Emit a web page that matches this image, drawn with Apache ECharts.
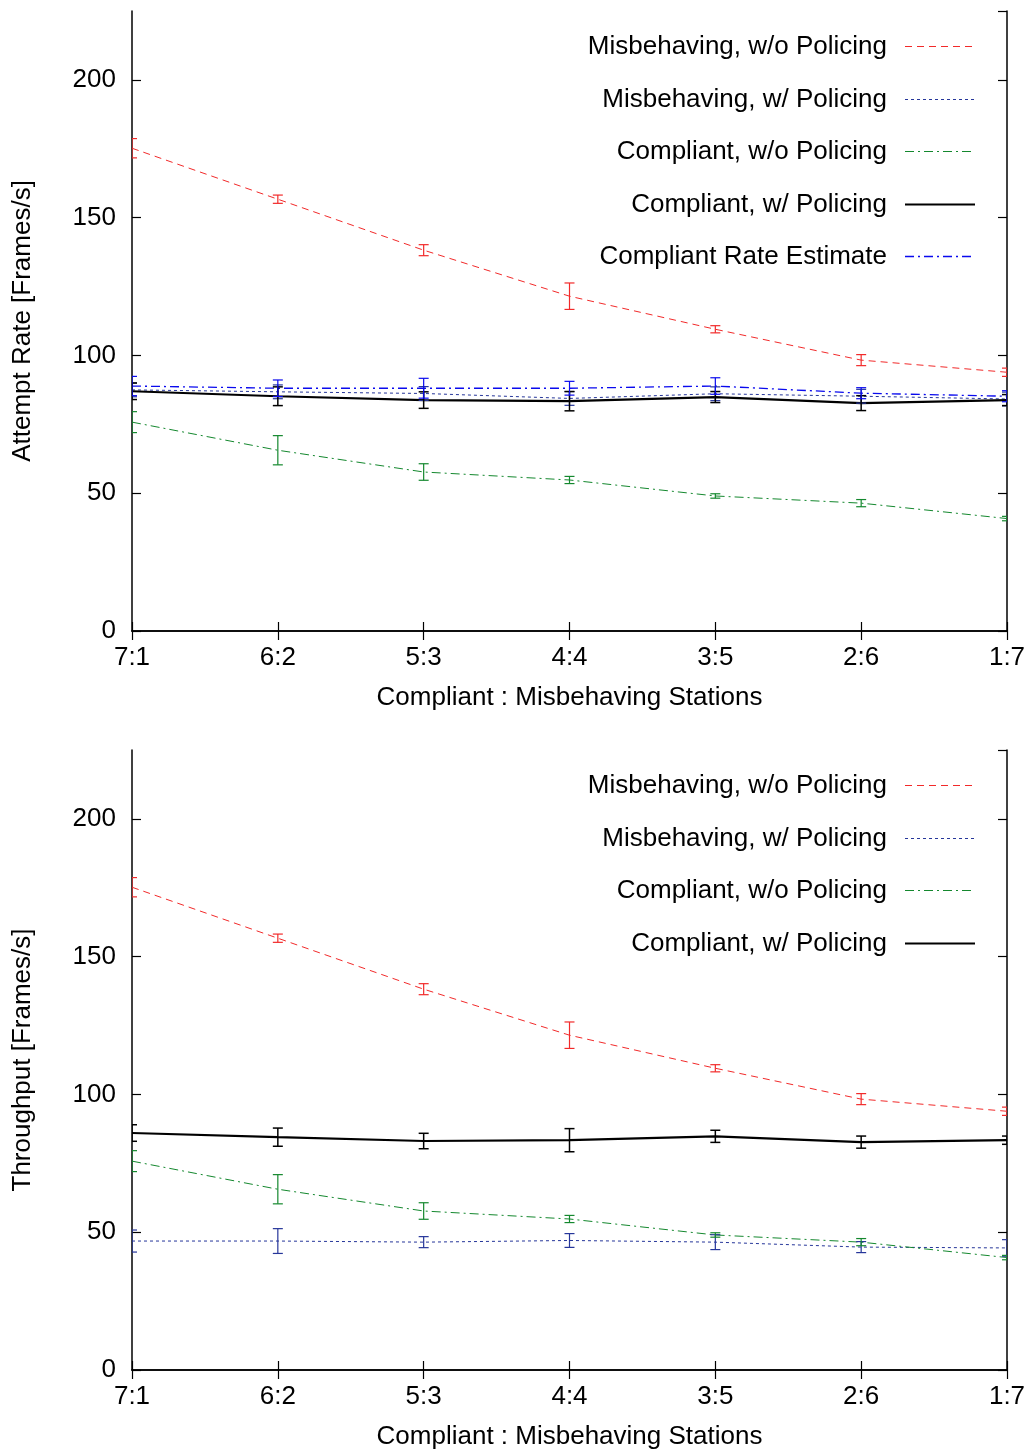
<!DOCTYPE html>
<html>
<head>
<meta charset="utf-8">
<script src="https://cdn.jsdelivr.net/npm/echarts@6/dist/echarts.min.js"></script>
<style>
html,body{margin:0;padding:0;background:#fff;}
#chart{width:1029px;height:1453px;}
</style>
</head>
<body>
<div id="chart"></div>
<script>
const categories = ['7:1', '6:2', '5:3', '4:4', '3:5', '2:6', '1:7'];
const yTicks = [0, 50, 100, 150, 200];

// Top panel: Attempt Rate
const attMisNoPol = [175.2, 156.7, 138.2, 121.5, 109.5, 98.3, 93.9];
const attMisNoPolErr = [3.5, 1.5, 2.0, 4.8, 1.3, 2.0, 1.5];
const attMisPol = [87.5, 86.8, 86.2, 84.4, 86.1, 85.2, 84.2];
const attMisPolErr = [2.5, 2.5, 2.5, 2.5, 2.5, 2.5, 2.5];
const attCompNoPol = [75.8, 65.6, 57.7, 54.8, 49.0, 46.4, 40.8];
const attCompNoPolErr = [3.8, 5.3, 3.0, 1.3, 0.8, 1.3, 0.8];
const attCompPol = [87.0, 85.2, 83.8, 83.4, 84.9, 82.7, 83.8];
const attCompPolErr = [3.0, 3.4, 3.0, 3.5, 2.0, 2.7, 2.0];
const attEstimate = [88.9, 88.1, 88.1, 88.1, 88.9, 86.3, 85.2];
const attEstimateErr = [3.5, 3.0, 3.6, 2.5, 3.0, 2.0, 2.0];

// Bottom panel: Throughput
const thrMisNoPol = [175.2, 156.7, 138.2, 121.5, 109.5, 98.3, 93.9];
const thrMisNoPolErr = [3.5, 1.5, 2.0, 4.8, 1.3, 2.0, 1.5];
const thrMisPol = [46.8, 46.8, 46.4, 47.0, 46.4, 44.6, 44.3];
const thrMisPolErr = [4.0, 4.5, 2.0, 2.5, 2.7, 2.0, 3.0];
const thrCompNoPol = [75.8, 65.6, 57.7, 54.8, 49.0, 46.4, 40.8];
const thrCompNoPolErr = [3.8, 5.3, 3.0, 1.3, 0.8, 1.3, 0.8];
const thrCompPol = [86.0, 84.5, 83.1, 83.4, 84.8, 82.7, 83.4];
const thrCompPolErr = [3.0, 3.3, 2.8, 4.2, 2.2, 2.2, 1.5];

const topNames = ['Misbehaving, w/o Policing', 'Misbehaving, w/ Policing', 'Compliant, w/o Policing', 'Compliant, w/ Policing', 'Compliant Rate Estimate'];
const botNames = ['Misbehaving, w/o Policing', 'Misbehaving, w/ Policing', 'Compliant, w/o Policing', 'Compliant, w/ Policing'];

const FONT = '"Liberation Sans", Arial, Helvetica, sans-serif';
const FS = 26;

const styles = {
  'Misbehaving, w/o Policing': {color: '#f22a2a', width: 1, dash: [7, 5]},
  'Misbehaving, w/ Policing': {color: '#26369a', width: 1, dash: [3, 3]},
  'Compliant, w/o Policing': {color: '#14882e', width: 1, dash: [9, 4, 2, 4]},
  'Compliant, w/ Policing': {color: '#000000', width: 2.2, dash: 'solid'},
  'Compliant Rate Estimate': {color: '#0a0aee', width: 1.3, dash: [9, 4, 2, 4]}
};

function lineSeries(name, data, gi) {
  const s = styles[name];
  return {
    type: 'line', name: name, xAxisIndex: gi * 2, yAxisIndex: gi * 2,
    data: data, symbol: 'none', smooth: false, z: 3,
    lineStyle: {color: s.color, width: s.width, type: s.dash},
    itemStyle: {color: s.color},
    emphasis: {disabled: true}, animation: false
  };
}

function errSeries(name, vals, errs, gi) {
  const s = styles[name];
  const data = vals.map((v, i) => [i, v - errs[i], v + errs[i]]);
  return {
    type: 'custom', name: name + ' err', xAxisIndex: gi * 2, yAxisIndex: gi * 2,
    data: data, clip: true, z: 4, animation: false, silent: true,
    renderItem: function (params, api) {
      const x = api.value(0);
      const lo = api.coord([x, api.value(1)]);
      const hi = api.coord([x, api.value(2)]);
      const cw = 5;
      const st = {stroke: s.color, lineWidth: name === 'Compliant, w/ Policing' ? 1.5 : 1.2, fill: null};
      return {
        type: 'group',
        children: [
          {type: 'line', shape: {x1: lo[0], y1: lo[1], x2: hi[0], y2: hi[1]}, style: st},
          {type: 'line', shape: {x1: lo[0] - cw, y1: lo[1], x2: lo[0] + cw, y2: lo[1]}, style: st},
          {type: 'line', shape: {x1: hi[0] - cw, y1: hi[1], x2: hi[0] + cw, y2: hi[1]}, style: st}
        ]
      };
    }
  };
}

const grids = [
  {left: 132, top: 11, width: 875, height: 620},
  {left: 132, top: 750, width: 875, height: 620}
];

function xAxes(gi) {
  return [
    {
      type: 'category', gridIndex: gi, data: categories, boundaryGap: false,
      position: 'bottom',
      name: 'Compliant : Misbehaving Stations', nameLocation: 'middle', nameGap: 54,
      nameTextStyle: {fontFamily: FONT, fontSize: FS, color: '#000'},
      axisLine: {lineStyle: {color: '#000', width: 1.5}},
      axisTick: {inside: true, length: 9, alignWithLabel: true, lineStyle: {color: '#000', width: 1.2}},
      axisLabel: {fontFamily: FONT, fontSize: FS, color: '#000', margin: 14, showMinLabel: true, showMaxLabel: true, interval: 0},
      splitLine: {show: false}
    },
    {
      type: 'category', gridIndex: gi, data: categories, boundaryGap: false,
      position: 'top',
      axisLine: {lineStyle: {color: '#000', width: 1.5}},
      axisTick: {inside: true, length: 9, lineStyle: {color: '#000', width: 1.2}},
      axisLabel: {show: false},
      splitLine: {show: false}
    }
  ];
}

function yAxes(gi, title) {
  const common = {
    type: 'value', gridIndex: gi, min: 0, max: 225, interval: 50,
    splitLine: {show: false}
  };
  return [
    Object.assign({}, common, {
      position: 'left',
      name: title, nameLocation: 'middle', nameGap: 96,
      nameTextStyle: {fontFamily: FONT, fontSize: FS, color: '#000'},
      axisLine: {show: true, lineStyle: {color: '#000', width: 1.5}},
      axisTick: {show: true, inside: true, length: 9, lineStyle: {color: '#000', width: 1.2}},
      axisLabel: {fontFamily: FONT, fontSize: FS, color: '#000', margin: 16, showMaxLabel: false,
        formatter: v => (yTicks.indexOf(v) >= 0 ? String(v) : '')}
    }),
    Object.assign({}, common, {
      position: 'right',
      axisLine: {show: true, lineStyle: {color: '#000', width: 1.5}},
      axisTick: {show: true, inside: true, length: 9, lineStyle: {color: '#000', width: 1.2}},
      axisLabel: {show: false}
    })
  ];
}

// Legend (gnuplot style: right-aligned text followed by line sample)
const legendTopY = 46, legendBotY = 785, legendStep = 52.5;
function legendGraphics(names, y0) {
  const els = [];
  names.forEach((n, i) => {
    const s = styles[n];
    const y = Math.round(y0 + i * legendStep) + 0.5;
    els.push({
      type: 'text', left: null, x: 887, y: y, silent: true,
      style: {text: n, font: FS + 'px ' + FONT, fill: '#000', textAlign: 'right', textVerticalAlign: 'middle'}
    });
    els.push({
      type: 'line', x: 0, y: 0, silent: true,
      shape: {x1: 905, y1: y, x2: 975, y2: y},
      style: {stroke: s.color, lineWidth: s.width, lineDash: s.dash === 'solid' ? null : s.dash}
    });
  });
  return els;
}

const series = [
  lineSeries('Misbehaving, w/o Policing', attMisNoPol, 0),
  lineSeries('Misbehaving, w/ Policing', attMisPol, 0),
  lineSeries('Compliant, w/o Policing', attCompNoPol, 0),
  lineSeries('Compliant, w/ Policing', attCompPol, 0),
  lineSeries('Compliant Rate Estimate', attEstimate, 0),
  errSeries('Misbehaving, w/o Policing', attMisNoPol, attMisNoPolErr, 0),
  errSeries('Misbehaving, w/ Policing', attMisPol, attMisPolErr, 0),
  errSeries('Compliant, w/o Policing', attCompNoPol, attCompNoPolErr, 0),
  errSeries('Compliant, w/ Policing', attCompPol, attCompPolErr, 0),
  errSeries('Compliant Rate Estimate', attEstimate, attEstimateErr, 0),
  lineSeries('Misbehaving, w/o Policing', thrMisNoPol, 1),
  lineSeries('Misbehaving, w/ Policing', thrMisPol, 1),
  lineSeries('Compliant, w/o Policing', thrCompNoPol, 1),
  lineSeries('Compliant, w/ Policing', thrCompPol, 1),
  errSeries('Misbehaving, w/o Policing', thrMisNoPol, thrMisNoPolErr, 1),
  errSeries('Misbehaving, w/ Policing', thrMisPol, thrMisPolErr, 1),
  errSeries('Compliant, w/o Policing', thrCompNoPol, thrCompNoPolErr, 1),
  errSeries('Compliant, w/ Policing', thrCompPol, thrCompPolErr, 1)
];

const chart = echarts.init(document.getElementById('chart'), null, {renderer: 'canvas'});
chart.setOption({
  backgroundColor: '#fff',
  animation: false,
  grid: grids,
  xAxis: xAxes(0).concat(xAxes(1)),
  yAxis: yAxes(0, 'Attempt Rate [Frames/s]').concat(yAxes(1, 'Throughput [Frames/s]')),
  graphic: {elements: legendGraphics(topNames, legendTopY).concat(legendGraphics(botNames, legendBotY))},
  series: series
});
</script>
</body>
</html>
